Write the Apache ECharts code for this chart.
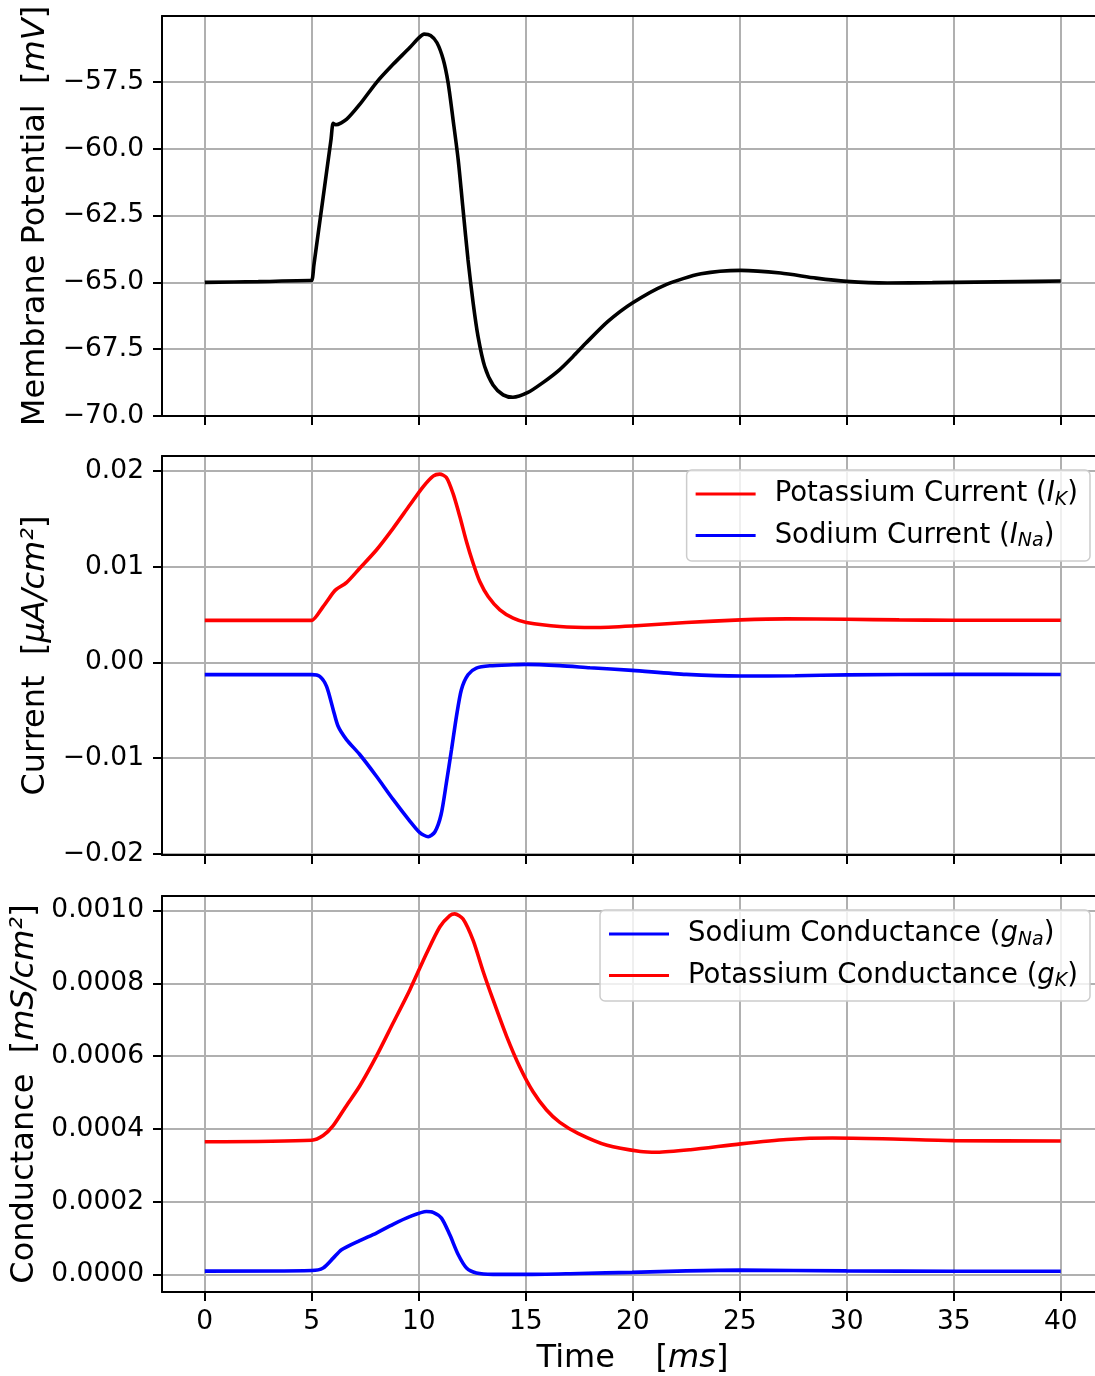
<!DOCTYPE html>
<html>
<head>
<meta charset="utf-8">
<script src="https://cdn.jsdelivr.net/npm/echarts@6/dist/echarts.min.js"></script>
<style>
  html, body { margin: 0; padding: 0; background: #fff; }
  #chart { width: 1095px; height: 1376px; }
</style>
</head>
<body>
<div id="chart"></div>
<script>
// 时间轴刻度
const timeTicks = [0, 5, 10, 15, 20, 25, 30, 35, 40];
const vmTicks = [-70, -67.5, -65, -62.5, -60, -57.5];
const curTicks = [-0.02, -0.01, 0, 0.01, 0.02];
const condTicks = [0, 0.0002, 0.0004, 0.0006, 0.0008, 0.0010];

// 膜电位 (mV)
const vmT = [0, 2.5, 4.9, 5.0, 5.1, 5.5, 5.9, 6.0, 6.12, 6.62, 7.24, 8.02, 8.8, 9.58, 10.0, 10.25, 10.55, 10.85, 11.14, 11.37, 11.6, 11.84, 12.07, 12.3, 12.54, 12.77, 13.08, 13.47, 13.94, 14.4, 15.1, 15.8, 16.56, 17.2, 17.8, 18.84, 19.98, 21.53, 23.19, 25.05, 26.91, 28.57, 30.0, 31.9, 34.0, 36.0, 38.0, 40.0];
const vmV = [-65.0, -64.97, -64.93, -64.93, -64.34, -61.99, -59.64, -59.05, -59.1, -58.9, -58.34, -57.52, -56.84, -56.21, -55.85, -55.71, -55.76, -56.03, -56.65, -57.53, -58.9, -60.4, -62.28, -64.15, -65.77, -67.03, -68.15, -68.84, -69.21, -69.3, -69.12, -68.75, -68.28, -67.78, -67.28, -66.46, -65.77, -65.09, -64.68, -64.55, -64.65, -64.84, -64.96, -65.02, -65.01, -64.99, -64.97, -64.95];

// 钾电流
const ikT = [0, 4.9, 5.0, 5.53, 6.0, 6.15, 6.62, 7.24, 8.02, 8.8, 9.58, 10.2, 10.67, 10.98, 11.29, 11.6, 11.92, 12.23, 12.54, 12.85, 13.24, 13.79, 14.41, 15.03, 16.59, 18.22, 19.97, 22.5, 25.04, 27.19, 30.0, 32.45, 35.0, 40.0];
const ikV = [0.00439, 0.00439, 0.00439, 0.00583, 0.00729, 0.00764, 0.00833, 0.00983, 0.01174, 0.0140, 0.01643, 0.01833, 0.01945, 0.01966, 0.01931, 0.01764, 0.01521, 0.0126, 0.01035, 0.00844, 0.00688, 0.00549, 0.00462, 0.00417, 0.00375, 0.00365, 0.00381, 0.00417, 0.00444, 0.00455, 0.00451, 0.00444, 0.00441, 0.00441];

// 钠电流
const inaT = [0, 5.0, 5.37, 5.69, 6.0, 6.23, 6.62, 7.24, 8.02, 8.8, 9.58, 10.05, 10.44, 10.75, 11.04, 11.29, 11.53, 11.76, 11.99, 12.3, 12.69, 13.32, 14.41, 15.0, 16.59, 18.0, 19.97, 22.5, 25.04, 27.58, 30.0, 35.0, 40.0];
const inaV = [-0.00127, -0.00127, -0.00146, -0.0025, -0.00493, -0.00667, -0.00805, -0.00961, -0.01188, -0.0143, -0.01656, -0.01777, -0.01819, -0.0177, -0.0159, -0.01256, -0.00909, -0.00563, -0.00284, -0.00128, -0.00059, -0.00035, -0.00024, -0.0002, -0.00033, -0.00055, -0.00083, -0.00125, -0.00142, -0.00139, -0.0013, -0.00124, -0.00126];

// 钠电导
const gnaT = [0, 5.0, 5.53, 6.0, 6.39, 7.24, 8.02, 8.8, 9.58, 10.36, 10.67, 11.06, 11.45, 11.84, 12.23, 12.69, 13.47, 15.0, 17.5, 19.97, 22.5, 25.04, 30.0, 35.0, 40.0];
const gnaV = [0.0000093, 0.000011, 0.000018, 0.000045, 0.000068, 0.000093, 0.000114, 0.000138, 0.000159, 0.000173, 0.000171, 0.000155, 0.000109, 0.000055, 0.000018, 0.0000045, 0.0000005, 0.0000003, 0.000003, 0.000006, 0.00001, 0.000012, 0.00001, 0.000009, 0.000009];

// 钾电导
const gkT = [0, 5.0, 5.53, 6.0, 6.62, 7.24, 8.02, 8.8, 9.58, 10.36, 10.98, 11.45, 11.68, 12.07, 12.54, 13.0, 13.47, 14.1, 14.72, 15.34, 15.97, 16.59, 17.44, 18.8, 20.36, 21.14, 22.7, 25.04, 27.19, 29.33, 31.67, 35.0, 40.0];
const gkV = [0.000365, 0.000369, 0.000382, 0.000409, 0.000464, 0.000518, 0.0006, 0.000691, 0.000782, 0.000882, 0.000955, 0.000986, 0.000991, 0.000977, 0.000918, 0.000834, 0.000755, 0.000655, 0.00057, 0.000502, 0.000452, 0.000418, 0.000388, 0.000355, 0.000338, 0.000336, 0.000343, 0.000359, 0.000371, 0.000375, 0.000373, 0.000368, 0.000367];

const FONT = "DejaVu Sans";
const tickSize = 26.5;
const nameSize = 32;
const legendSize = 27.5;

function pairs(t, v) {
    return t.map(function (x, i) { return [x, v[i]]; });
}
function minus(s) {
    return s.replace("-", "\u2212");
}

var myChart = echarts.init(document.getElementById("chart"), null, { renderer: "canvas" });

//三个子图，右侧边框在画面之外
var grids = [
    { left: 162, right: 0, top: 16, height: 400 },
    { left: 162, right: 0, top: 456, height: 399 },
    { left: 162, right: 0, top: 896, height: 398 }
];

function xAxisFor(idx, withLabel) {
    return {
        type: "value",
        gridIndex: idx,
        min: -2,
        max: 41.6,
        axisLine: { show: true, onZero: false, lineStyle: { color: "#000", width: 2 } },
        axisTick: { show: true, length: 9, customValues: timeTicks, lineStyle: { color: "#000", width: 2 } },
        axisLabel: {
            show: withLabel, customValues: timeTicks, margin: 17,
            fontFamily: FONT, fontSize: tickSize, color: "#000"
        },
        splitLine: { show: true, lineStyle: { color: "#b0b0b0", width: 2 } },
        name: withLabel ? "Time    [{i|ms}]" : "",
        nameLocation: "middle",
        nameGap: 51,
        nameTextStyle: {
            fontFamily: FONT, fontSize: nameSize, color: "#000", padding: [0, 0, 0, 8],
            rich: { i: { fontFamily: FONT, fontSize: nameSize, fontStyle: "italic", color: "#000" } }
        }
    };
}
//顶部边框
function topSpine(idx) {
    return {
        type: "value",
        gridIndex: idx,
        position: "top",
        min: -2,
        max: 41.6,
        axisLine: { show: true, onZero: false, lineStyle: { color: "#000", width: 2 } },
        axisTick: { show: false },
        axisLabel: { show: false },
        splitLine: { show: false }
    };
}

function yAxisFor(idx, min, max, ticks, digits, name, gap) {
    return {
        type: "value",
        gridIndex: idx,
        min: min,
        max: max,
        axisLine: { show: true, onZero: false, lineStyle: { color: "#000", width: 2 } },
        axisTick: { show: true, length: 9, customValues: ticks, lineStyle: { color: "#000", width: 2 } },
        axisLabel: {
            customValues: ticks, margin: 18,
            fontFamily: FONT, fontSize: tickSize, color: "#000",
            formatter: function (v) { return minus(Number(v).toFixed(digits)); }
        },
        splitLine: { show: true, lineStyle: { color: "#b0b0b0", width: 2 } },
        name: name,
        nameLocation: "middle",
        nameGap: gap,
        nameRotate: 90,
        nameTextStyle: {
            fontFamily: FONT, fontSize: nameSize, color: "#000",
            rich: { i: { fontFamily: FONT, fontSize: nameSize, fontStyle: "italic", color: "#000" } }
        }
    };
}

var legendRich = {
    t: { fontFamily: FONT, fontSize: legendSize, color: "#000" },
    i: { fontFamily: FONT, fontSize: legendSize, fontStyle: "italic", color: "#000" },
    s: { fontFamily: FONT, fontSize: 19, fontStyle: "italic", color: "#000", padding: [12, 0, 0, 0] }
};
var legendLabels = {
    "Potassium Current": "{t|Potassium Current (}{i|I}{s|K}{t|)}",
    "Sodium Current": "{t|Sodium Current (}{i|I}{s|Na}{t|)}",
    "Sodium Conductance": "{t|Sodium Conductance (}{i|g}{s|Na}{t|)}",
    "Potassium Conductance": "{t|Potassium Conductance (}{i|g}{s|K}{t|)}"
};
function legendFor(top, names) {
    return {
        data: names,
        orient: "vertical",
        right: 5,
        top: top,
        icon: "rect",
        itemWidth: 60,
        itemHeight: 3,
        itemGap: 12,
        padding: [10, 12, 10, 9],
        backgroundColor: "rgba(255,255,255,0.8)",
        borderColor: "#cccccc",
        borderWidth: 1.5,
        borderRadius: 5,
        selectedMode: false,
        textStyle: { fontFamily: FONT, fontSize: legendSize, color: "#000", padding: [0, 0, 0, 14], rich: legendRich },
        formatter: function (n) { return legendLabels[n]; }
    };
}

function lineSeries(name, xi, yi, t, v, color) {
    return {
        name: name,
        type: "line",
        xAxisIndex: xi,
        yAxisIndex: yi,
        data: pairs(t, v),
        showSymbol: false,
        smooth: 0.25,
        animation: false,
        lineStyle: { color: color, width: 3.6 },
        itemStyle: { color: color }
    };
}

var option = {
    animation: false,
    backgroundColor: "#fff",
    grid: grids,
    legend: [
        legendFor(470, ["Potassium Current", "Sodium Current"]),
        legendFor(910, ["Sodium Conductance", "Potassium Conductance"])
    ],
    xAxis: [xAxisFor(0, false), xAxisFor(1, false), xAxisFor(2, true), topSpine(0), topSpine(1), topSpine(2)],
    yAxis: [
        yAxisFor(0, -70, -55.03, vmTicks, 1, "Membrane Potential  [{i|mV}]", 104),
        yAxisFor(1, -0.0201, 0.02155, curTicks, 2, "Current  [{i|\u03bcA/cm\u00b2}]", 106),
        yAxisFor(2, -0.000048, 0.00104, condTicks, 4, "Conductance  [{i|mS/cm\u00b2}]", 118)
    ],
    series: [
        lineSeries("Membrane Potential", 0, 0, vmT, vmV, "#000000"),
        lineSeries("Potassium Current", 1, 1, ikT, ikV, "#ff0000"),
        lineSeries("Sodium Current", 1, 1, inaT, inaV, "#0000ff"),
        lineSeries("Sodium Conductance", 2, 2, gnaT, gnaV, "#0000ff"),
        lineSeries("Potassium Conductance", 2, 2, gkT, gkV, "#ff0000")
    ]
};

myChart.setOption(option);
</script>
</body>
</html>
